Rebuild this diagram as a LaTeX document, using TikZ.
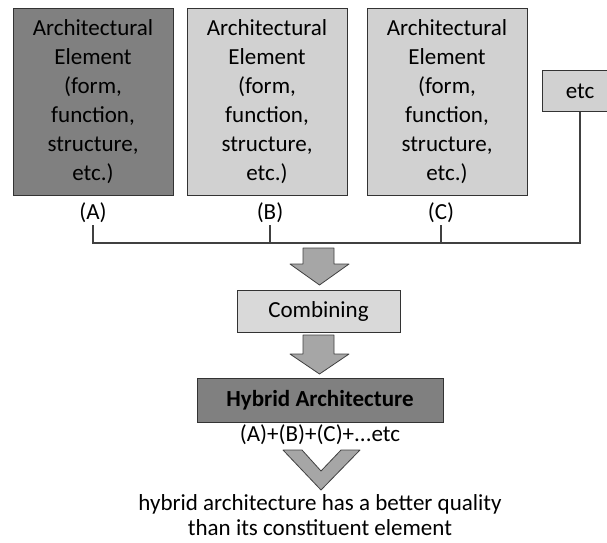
\documentclass[tikz,border=0pt]{standalone}
\usepackage{fontspec}
\setmainfont{Carlito}
\begin{document}
\begin{tikzpicture}[x=1pt, y=-1pt,
    element/.style={draw=black!80, line width=1pt, minimum width=160pt, minimum height=187pt, inner sep=0pt, align=center, font=\fontsize{23}{29}\selectfont},
    stage/.style={draw=black!80, line width=1pt, inner sep=0pt, font=\fontsize{23}{28}\selectfont},
    tag/.style={inner sep=2pt, font=\fontsize{23}{28}\selectfont},
    bus/.style={draw=black!75, line width=1.5pt},
    blockarrow/.style={draw=black!75, fill=black!35, line width=0.8pt, line join=round}]
    \useasboundingbox (0,0) rectangle (607,542);

    % Nodes
    \node[element, fill=black!50] (ElemA) at (93,101.5) {Architectural\\Element\\(form,\\function,\\structure,\\etc.)};
    \node[element, fill=black!18] (ElemB) at (267,101.5) {Architectural\\Element\\(form,\\function,\\structure,\\etc.)};
    \node[element, fill=black!18] (ElemC) at (447,101.5) {Architectural\\Element\\(form,\\function,\\structure,\\etc.)};
    \node[stage, fill=black!18, minimum width=76pt, minimum height=41pt] (Etc) at (580,91) {etc};

    \node[tag] (LabelA) at (93,213) {(A)};
    \node[tag] (LabelB) at (270,213) {(B)};
    \node[tag] (LabelC) at (441,213) {(C)};
    \coordinate (Bus) at (0,243);

    \node[stage, fill=black!15, minimum width=163pt, minimum height=42pt] (Combining) at (318.5,311) {Combining};
    \node[stage, fill=black!50, minimum width=246pt, minimum height=44pt, font=\fontsize{23}{28}\selectfont\bfseries] (Hybrid) at (320,400) {Hybrid Architecture};
    \node[tag] (Sum) at (320,435) {(A)+(B)+(C)+...etc};
    \node[tag, align=center, font=\fontsize{23}{25}\selectfont] (Quality) at (320,515) {hybrid architecture has a better quality\\than its constituent element};

    % Connectors
    \draw[bus] (LabelA.south) |- (Etc.south |- Bus) -- (Etc.south);
    \draw[bus] (LabelB.south) -- (LabelB.south |- Bus);
    \draw[bus] (LabelC.south) -- (LabelC.south |- Bus);

    % Block arrows
    \draw[blockarrow] (303,248) -- (334,248) -- (334,264) -- (349,264) -- (319.5,285) -- (290,264) -- (303,264) -- cycle;
    \draw[blockarrow] (303,335) -- (334,335) -- (334,354) -- (349,354) -- (319.5,374) -- (290,354) -- (303,354) -- cycle;
    \draw[blockarrow] (283,450) -- (302,450) -- (321,471) -- (341,450) -- (360,450) -- (321,490) -- cycle;
\end{tikzpicture}
\end{document}
